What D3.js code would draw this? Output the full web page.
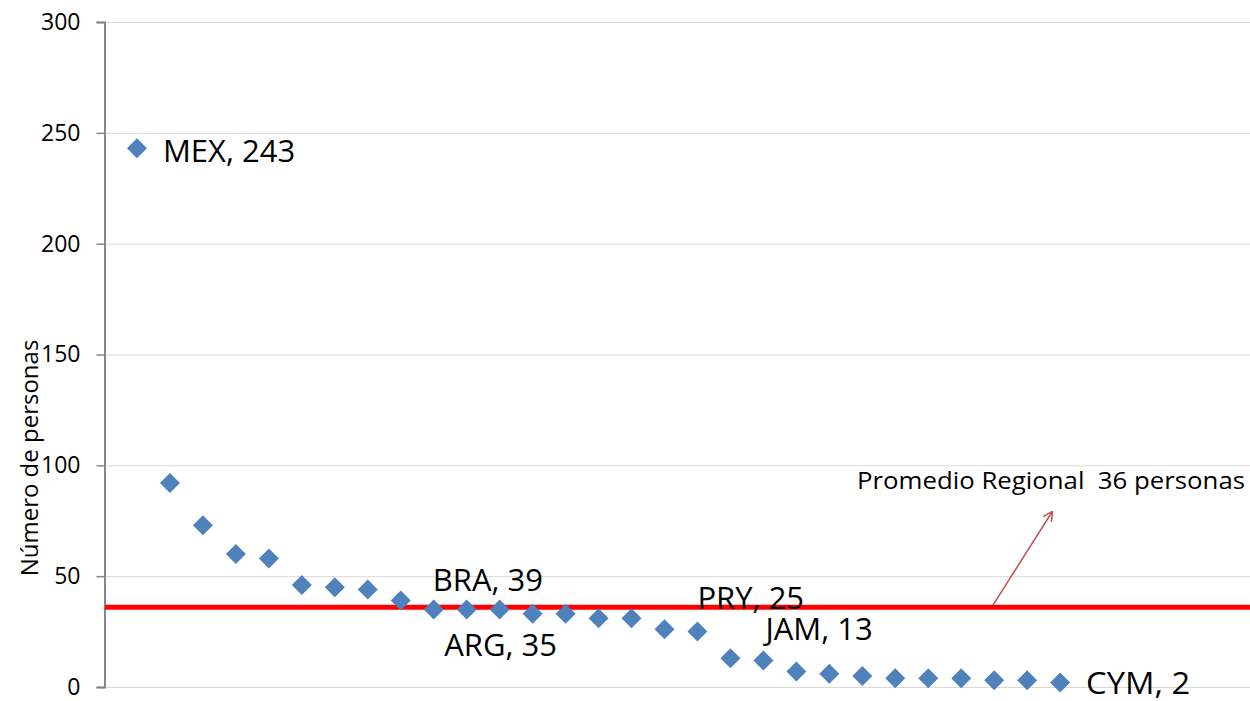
<!DOCTYPE html>
<html>
<head>
<meta charset="utf-8">
<script src="https://cdn.jsdelivr.net/npm/d3@7"></script>
<style>
  body { margin: 0; background: #fff; }
  text { font-family: "Open Sans", "Noto Sans", sans-serif; fill: #000; }
</style>
</head>
<body>
<div id="chart"></div>
<script>
// persons per country, sorted high to low (x position 1..29)
const codes = ["MEX", "", "", "", "", "", "", "", "BRA", "", "", "ARG", "", "", "", "", "", "PRY", "JAM", "", "", "", "", "", "", "", "", "", "CYM"];
const values = [243, 92, 73, 60, 58, 46, 45, 44, 39, 35, 35, 35, 33, 33, 31, 31, 26, 25, 13, 12, 7, 6, 5, 4, 4, 4, 3, 3, 2];
const yTicks = [0, 50, 100, 150, 200, 250, 300];
const average = 36;
const averageLabel = "Promedio Regional  36 personas";
const yTitle = "Número de personas";

const width = 1250, height = 701;
const margin = { top: 22, left: 104, bottom: 14 };

const x = d3.scaleLinear().domain([0, 35]).range([margin.left, margin.left + 35 * 32.97]);
const y = d3.scaleLinear().domain([0, 300]).range([height - margin.bottom, margin.top]);

const svg = d3.select("#chart").append("svg")
  .attr("width", width)
  .attr("height", height);

// gridlines
svg.append("g")
  .selectAll("line")
  .data(yTicks)
  .join("line")
  .attr("x1", margin.left)
  .attr("x2", width)
  .attr("y1", d => y(d) + 0.5)
  .attr("y2", d => y(d) + 0.5)
  .attr("stroke", "#d9d9d9")
  .attr("stroke-width", 1);

// y axis
const yAxis = svg.append("g")
  .attr("transform", `translate(${margin.left + 0.5},0)`)
  .call(d3.axisLeft(y).tickValues(yTicks).tickSize(8).tickPadding(16));
yAxis.select(".domain").attr("stroke", "#868686").attr("stroke-width", 2);
yAxis.selectAll(".tick line").attr("stroke", "#868686").attr("stroke-width", 1.5);
yAxis.selectAll(".tick text")
  .style("font-family", '"Open Sans", sans-serif')
  .style("font-size", "23px")
  .attr("fill", "#000");

svg.append("text")
  .attr("transform", "translate(38,458) rotate(-90)")
  .attr("text-anchor", "middle")
  .style("font-size", "24px")
  .text(yTitle);

// regional average line
svg.append("line")
  .attr("x1", margin.left + 1)
  .attr("x2", width)
  .attr("y1", y(average))
  .attr("y2", y(average))
  .attr("stroke", "#ff0000")
  .attr("stroke-width", 5);

// points
const pts = values.map((v, i) => ({ i: i + 1, v, code: codes[i] }));
svg.append("g")
  .selectAll("path")
  .data(pts)
  .join("path")
  .attr("d", d3.symbol(d3.symbolSquare, 200))
  .attr("transform", d => `translate(${x(d.i)},${y(d.v)}) rotate(45)`)
  .attr("fill", "#4f81bd");

// data labels (offsets from point, px)
const offsets = {
  MEX: [26, 14, "start"],
  BRA: [32, -10, "start"],
  ARG: [1, 47, "middle"],
  PRY: [0, -23, "start"],
  JAM: [35, -18, "start"],
  CYM: [26, 11, "start"]
};
svg.append("g")
  .selectAll("text")
  .data(pts.filter(d => d.code))
  .join("text")
  .attr("x", d => x(d.i) + offsets[d.code][0])
  .attr("y", d => y(d.v) + offsets[d.code][1])
  .attr("text-anchor", d => offsets[d.code][2])
  .attr("textLength", d => d.code === "CYM" ? 104 : null)
  .attr("lengthAdjust", "spacingAndGlyphs")
  .style("font-size", "31px")
  .text(d => `${d.code}, ${d.v}`);

// annotation + arrow
svg.append("defs").append("marker")
  .attr("id", "arrow")
  .attr("viewBox", "0 0 10 10")
  .attr("refX", 9)
  .attr("refY", 5)
  .attr("markerWidth", 10)
  .attr("markerHeight", 10)
  .attr("markerUnits", "userSpaceOnUse")
  .attr("orient", "auto")
  .append("path")
  .attr("d", "M0,0 L10,5 L0,10")
  .attr("fill", "none")
  .attr("stroke", "#c0504d")
  .attr("stroke-width", 1.5);

svg.append("line")
  .attr("x1", 993)
  .attr("y1", y(average) - 2)
  .attr("x2", 1052)
  .attr("y2", 512)
  .attr("stroke", "#c0504d")
  .attr("stroke-width", 1.5)
  .attr("marker-end", "url(#arrow)");

svg.append("text")
  .attr("x", 857)
  .attr("y", 489)
  .attr("textLength", 388)
  .attr("lengthAdjust", "spacingAndGlyphs")
  .style("white-space", "pre")
  .style("font-size", "24px")
  .text(averageLabel);
</script>
</body>
</html>
